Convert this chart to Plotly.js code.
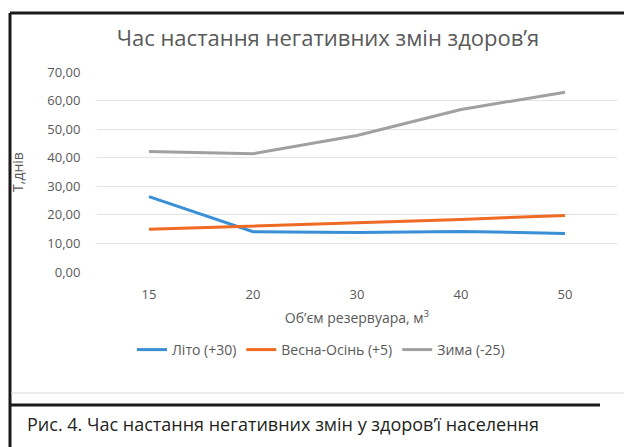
<!DOCTYPE html>
<html>
<head>
<meta charset="utf-8">
<script src="https://cdn.plot.ly/plotly-3.0.1.min.js"></script>
<style>html,body{margin:0;padding:0;background:#fff;}#chart{width:624px;height:447px;}</style>
</head>
<body>
<div id="chart"></div>
<script>
const categories = ['15', '20', '30', '40', '50'];
const seriesNames = ['Літо (+30)', 'Весна-Осінь (+5)', 'Зима (-25)'];
const summer = [26.4, 14.1, 13.8, 14.2, 13.5];
const springAutumn = [15.0, 16.0, 17.2, 18.4, 19.8];
const winter = [42.2, 41.4, 47.8, 56.9, 62.9];
const colors = ['#3a8fd6', '#ef6a22', '#a0a0a0'];

const W = 624, H = 447;
const L = 97, R = 7, T = 72, B = 175;
const pw = W - L - R, ph = H - T - B;
const px = x => (x - L) / pw;
const py = y => (H - B - y) / ph;

const font = "'Open Sans', 'Noto Sans', sans-serif";
const grey = '#595959';

const data = [summer, springAutumn, winter].map((vals, i) => ({
  x: categories, y: vals, type: 'scatter', mode: 'lines', name: seriesNames[i],
  line: {color: colors[i], width: 3}
}));

const layout = {
  width: W, height: H,
  margin: {l: L, r: R, t: T, b: B},
  paper_bgcolor: '#fff', plot_bgcolor: '#fff',
  separators: ', ',
  font: {family: font, color: grey, size: 13},
  title: {text: 'Час настання негативних змін здоров’я', font: {family: font, size: 22, color: grey},
          x: 328 / W, xref: 'container', xanchor: 'center', y: 1 - 38 / H, yref: 'container', yanchor: 'middle'},
  xaxis: {type: 'category', range: [-0.5, 4.5], showgrid: false, zeroline: false, showline: false,
          ticks: 'outside', ticklen: 10, tickcolor: 'rgba(0,0,0,0)',
          tickfont: {size: 13, color: grey}, fixedrange: true,
          title: {text: 'Об’єм резервуара, м<sup>3</sup>', font: {size: 14, color: grey}, standoff: 11}},
  yaxis: {range: [0, 70], dtick: 10, tickformat: '.2f', showgrid: true, gridcolor: '#e3e3e3', gridwidth: 1,
          zeroline: false, showline: false, ticks: 'outside', ticklen: 13, tickcolor: 'rgba(0,0,0,0)',
          tickfont: {size: 13, color: grey}, fixedrange: true,
          title: {text: 'Т,днів', font: {size: 14, color: grey}, standoff: 20}},
  showlegend: true,
  legend: {orientation: 'h', x: px(321), xanchor: 'center', y: py(350), yanchor: 'middle',
           font: {size: 14, color: grey}, itemwidth: 30, bgcolor: 'rgba(0,0,0,0)'},
  shapes: [
    {type: 'line', xref: 'paper', yref: 'paper', x0: px(10), x1: px(624), y0: py(13), y1: py(13), line: {color: '#1a1a1a', width: 3}},
    {type: 'line', xref: 'paper', yref: 'paper', x0: px(10), x1: px(10), y0: py(13), y1: py(447), line: {color: '#1a1a1a', width: 3}},
    {type: 'line', xref: 'paper', yref: 'paper', x0: px(10), x1: px(600), y0: py(405), y1: py(405), line: {color: '#1a1a1a', width: 3}},
    {type: 'line', xref: 'paper', yref: 'paper', x0: px(11), x1: px(624), y0: py(393), y1: py(393), line: {color: '#d9d9d9', width: 1}}
  ],
  annotations: [
    {text: 'Рис. 4. Час настання негативних змін у здоров’ї населення', xref: 'paper', yref: 'paper',
     x: px(25), y: py(424), xanchor: 'left', yanchor: 'middle', showarrow: false,
     font: {family: font, size: 18, color: '#231f20'}}
  ]
};

Plotly.newPlot('chart', data, layout, {displayModeBar: false, staticPlot: true});
</script>
</body>
</html>
